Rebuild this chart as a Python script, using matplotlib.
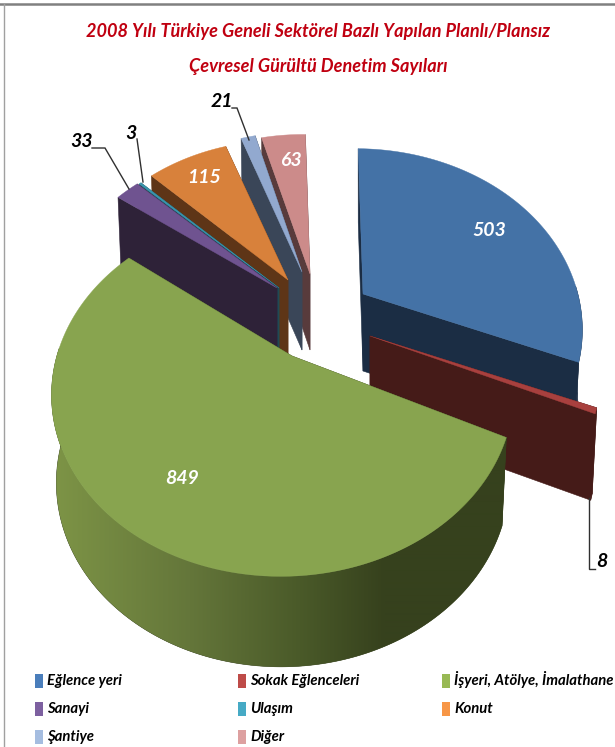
import numpy as np
import matplotlib
matplotlib.use("Agg")
import matplotlib.pyplot as plt
from matplotlib.patches import Polygon, Rectangle
from matplotlib.colors import to_rgb

# ---- data
categories = ["Eğlence yeri", "Sokak Eğlenceleri", "İşyeri, Atölye, İmalathane",
              "Sanayi", "Ulaşım", "Konut", "Şantiye", "Diğer"]
values = [503, 8, 849, 33, 3, 115, 21, 63]
title_lines = ["2008 Yılı Türkiye Geneli Sektörel Bazlı Yapılan Planlı/Plansız",
               "Çevresel Gürültü Denetim Sayıları"]

# ---- colours
top_colors = ["#4472A6", "#A8403E", "#88A44F", "#6F5390", "#3A96AE", "#D8813B", "#92A9CF", "#CC8B8A"]
side_colors = ["#1B2D44", "#451B18", "#36411D", "#2E2238", "#1F4A55", "#5E3517", "#3A4658", "#583B3C"]
legend_colors = ["#4A7EBB", "#BE4B48", "#98B954", "#7D60A0", "#46AAC5", "#F79646", "#A5BDE0", "#DDA0A0"]
green_wall_stops = [(55, "#7D9446"), (190, "#64763A"), (300, "#4A5A29"), (385, "#36411D"), (510, "#36411D")]

# ---- layout (pixels)
W, H = 615, 747
apex = [(363, 294), (370, 336), (292, 356), (277, 288), (279, 288), (288, 280), (302, 272), (310, 274)]
rx_scale = [0.98, 1.03, 0.99, 0.93, 0.93, 0.92, 0.90, 0.93]
ry_scale = [1.0, 1.05, 1.0, 0.97, 0.97, 0.96, 0.96, 0.96]
slice_rot = [0, 0, 2.3, 0, 0, 0, 0, 0]
depths = [77, 85, 87, 80, 80, 80, 78, 76]
paint_order = [7, 6, 5, 4, 3, 0, 1, 2]
R, KR, P, Q, ROT, SHRINK = 228.0, 175.0, 0.205, 0.04, -1.5, 0.98

inside_labels = {0: (489, 230), 2: (182, 478), 5: (204, 177), 7: (291, 160)}
outside_labels = {1: (602, 561), 3: (82, 141), 4: (131, 133), 6: (222, 101)}
leaders = [[(589, 498), (589, 569), (595, 569)],
           [(92, 148), (105, 148), (129, 189)],
           [(137, 139), (143, 182)],
           [(232, 108), (237, 108), (249, 140)]]
legend_rows = [681, 709, 737]
legend_cols = [35, 238, 442]
FONT = ["Lato", "DejaVu Sans"]

fig = plt.figure(figsize=(W / 100, H / 100), dpi=100, facecolor="white")
ax = fig.add_axes([0, 0, 1, 1])
ax.set_xlim(0, W)
ax.set_ylim(H, 0)
ax.axis("off")


def project(i, theta):
    th = np.radians(np.asarray(theta, float) + slice_rot[i])
    X, Y = np.sin(th), -np.cos(th)
    w = 1 - P * Y + Q * X
    return apex[i][0] + rx_scale[i] * R * X / w, apex[i][1] + ry_scale[i] * KR * Y / w, Y


def lower(i, x, y, Y):
    return apex[i][0] + (x - apex[i][0]) * SHRINK, y + depths[i] * (1 + 0.04 * Y)


def fit_size(artist, target_px):
    r = fig.canvas.get_renderer()
    artist.set_fontsize(artist.get_fontsize() * target_px / artist.get_window_extent(r).width)
    return artist.get_fontsize()


total = sum(values)
edges = np.concatenate([[0], np.cumsum(values)]) / total * 360 + ROT

for i in paint_order:
    a, b = edges[i], edges[i + 1]
    z = 3 + paint_order.index(i)
    thetas = np.linspace(a, b, max(int(b - a) * 2, 6))
    xs, ys, Ys = project(i, thetas)
    ax0, ay0 = apex[i]
    bx0, by0 = lower(i, ax0, ay0, 0)
    # cut faces, the far one first
    for k in sorted([0, -1], key=lambda k: Ys[k]):
        lx, ly = lower(i, xs[k], ys[k], Ys[k])
        ax.add_patch(Polygon([(ax0, ay0), (xs[k], ys[k]), (lx, ly), (bx0, by0)], closed=True,
                             fc=side_colors[i], ec=side_colors[i], lw=0.4, zorder=z))
    # outer wall on the front of the arc
    front = Ys >= -0.05
    if front.sum() >= 2:
        fx, fy, fY = xs[front], ys[front], Ys[front]
        lx, ly = lower(i, fx, fy, fY)
        wall = Polygon(np.column_stack([np.r_[fx, lx[::-1]], np.r_[fy, ly[::-1]]]), closed=True,
                       fc=side_colors[i], ec=side_colors[i], lw=0.4, zorder=z)
        ax.add_patch(wall)
        if i == 2:
            gx = np.linspace(30, 530, 500)
            stops = np.array([to_rgb(s[1]) for s in green_wall_stops])
            sx = [s[0] for s in green_wall_stops]
            grad = np.stack([np.interp(gx, sx, stops[:, c]) for c in range(3)], axis=-1)[None, :, :]
            im = ax.imshow(grad, extent=(30, 530, 700, 300), aspect="auto", zorder=z + 0.1, interpolation="bilinear")
            im.set_clip_path(wall)
            ax.set_xlim(0, W)
            ax.set_ylim(H, 0)
    # top face
    ax.add_patch(Polygon(np.column_stack([np.r_[ax0, xs], np.r_[ay0, ys]]), closed=True,
                         fc=top_colors[i], ec=top_colors[i], lw=0.3, zorder=z + 0.5))

# value labels
for labels, col in ((inside_labels, "white"), (outside_labels, "black")):
    for i, (x, y) in labels.items():
        ax.text(x, y + 6, str(values[i]), color=col, fontsize=14, fontstyle="italic", fontweight="bold",
                family=FONT, ha="center", va="baseline", zorder=20)
for pts in leaders:
    p = np.array(pts)
    ax.plot(p[:, 0], p[:, 1], color="#303030", lw=1.0, zorder=19, solid_joinstyle="miter")

# title
t1 = ax.text(318, 37, title_lines[0], color="#C00010", fontsize=16, fontstyle="italic", fontweight="bold",
             family=FONT, ha="center", va="baseline", zorder=20)
size = fit_size(t1, 462)
ax.text(318, 72, title_lines[1], color="#C00010", fontsize=size, fontstyle="italic", fontweight="bold",
        family=FONT, ha="center", va="baseline", zorder=20)

# legend
probe = ax.text(0, 0, categories[2], fontsize=12, fontstyle="italic", fontweight="bold", family=FONT)
leg_size = fit_size(probe, 159)
probe.remove()
for n, (name, col) in enumerate(zip(categories, legend_colors)):
    cx = legend_cols[n % 3]
    cy = legend_rows[n // 3]
    ax.add_patch(Rectangle((cx, cy - 7), 8, 14, fc=col, ec="none", zorder=20))
    ax.text(cx + 12, cy + 4, name, color="black", fontsize=leg_size, fontstyle="italic", fontweight="bold",
            family=FONT, ha="left", va="baseline", zorder=20)

# slide frame
ax.plot([0, W], [3.5, 3.5], color="#808080", lw=1.8, zorder=30)
ax.plot([4, 4], [3.5, H], color="#A0A0A0", lw=1.0, zorder=30)

fig.savefig("out.png", dpi=100, facecolor="white")
